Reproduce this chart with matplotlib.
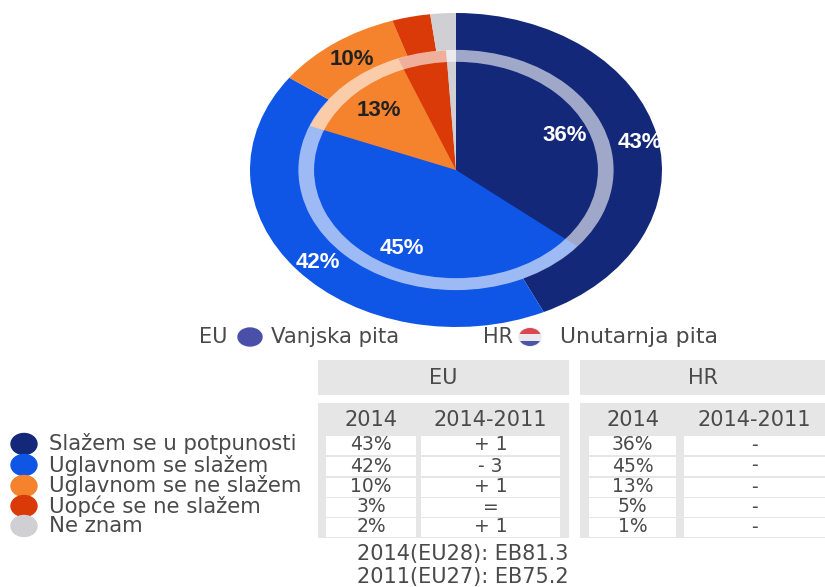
import matplotlib
matplotlib.use("Agg")
import matplotlib.pyplot as plt
from matplotlib.patches import Ellipse, Rectangle

plt.rcParams['font.family'] = ['DejaVu Sans']

categories = ['Slažem se u potpunosti', 'Uglavnom se slažem', 'Uglavnom se ne slažem',
              'Uopće se ne slažem', 'Ne znam']
colors = ['#14287a', '#0f55e6', '#f5822d', '#d93a08', '#cfcfd4']
label_colors = ['white', 'white', '#222222', '#222222', '#222222']

eu_2014 = [43, 42, 10, 3, 2]
hr_2014 = [36, 45, 13, 5, 1]
eu_change = ['+ 1', '- 3', '+ 1', '=', '+ 1']
hr_change = ['-', '-', '-', '-', '-']
notes = ['2014(EU28): EB81.3', '2011(EU27): EB75.2']
text_col = '#4a4a4a'

W, H = 825, 587
fig = plt.figure(figsize=(W / 100, H / 100), dpi=100)

# pixel axes for table and legend
bg = fig.add_axes([0, 0, 1, 1])
bg.set_xlim(0, W)
bg.set_ylim(H, 0)
bg.axis('off')

# the pie is an ellipse in the picture, so stretch its axes
cx, cy, rx, ry = 456, 170, 206, 157
pie_ax = fig.add_axes([(cx - 1.25 * rx) / W, 1 - (cy + 1.25 * ry) / H, 2.5 * rx / W, 2.5 * ry / H])
pie_ax.patch.set_alpha(0)


def fmt(pct):
    return f'{pct:.0f}%' if pct >= 9 else ''


def draw_pie(values, radius, dist):
    wedges, _, autos = pie_ax.pie(values, colors=colors, radius=radius, startangle=90,
                                  counterclock=False, autopct=fmt, pctdistance=dist,
                                  textprops={'family': 'Liberation Sans', 'weight': 'bold',
                                             'fontsize': 16})
    for t, c in zip(autos, label_colors):
        t.set_color(c)
        t.set_zorder(10)
        # labels sit a little right of and below the wedge middle
        x, y = t.get_position()
        t.set_position((x + 0.02, y - 0.02))


draw_pie(eu_2014, 1.0, 0.895)
draw_pie(hr_2014, 0.762, 0.735)
pie_ax.pie([1], colors=['white'], radius=0.765, wedgeprops={'width': 0.076, 'alpha': 0.6})
pie_ax.set_aspect('auto')
pie_ax.set_xlim(-1.25, 1.25)
pie_ax.set_ylim(-1.25, 1.25)

# caption under the pie
bg.text(199, 337, 'EU', fontsize=15, color=text_col, va='center')
bg.add_patch(Ellipse((250, 337), 24, 18, color='#4a4fa8'))
bg.text(271, 337, 'Vanjska pita', fontsize=15.3, color=text_col, va='center')
bg.text(483, 337, 'HR', fontsize=15, color=text_col, va='center')
flag = Ellipse((530, 337), 22, 18, color='#e8e8ee')
bg.add_patch(flag)
for y0, h, c in [(328, 6, '#d9484f'), (341, 5, '#4a55a8')]:
    stripe = Rectangle((519, y0), 22, h, color=c, lw=0)
    bg.add_patch(stripe)
    stripe.set_clip_path(flag)
bg.text(560, 337, 'Unutarnja pita', fontsize=15.8, color=text_col, va='center')

# table blocks
for x0, x1, name in [(318, 569, 'EU'), (580, 825, 'HR')]:
    bg.add_patch(Rectangle((x0, 360), x1 - x0, 35, color='#e6e6e6', lw=0))
    bg.add_patch(Rectangle((x0, 403), x1 - x0, 135, color='#e6e6e6', lw=0))
    bg.text((x0 + x1) / 2, 378, name, fontsize=15, color=text_col, ha='center', va='center')

row_y = [445, 466, 487, 507, 527]
columns = [(326, 416, [f'{v}%' for v in eu_2014], '2014'),
           (421, 560, eu_change, '2014-2011'),
           (589, 676, [f'{v}%' for v in hr_2014], '2014'),
           (684, 825, hr_change, '2014-2011')]
for x0, x1, vals, head in columns:
    xm = (x0 + x1) / 2
    bg.text(xm, 420, head, fontsize=15, color=text_col, ha='center', va='center')
    for y, v in zip(row_y, vals):
        bg.add_patch(Rectangle((x0, y - 9), x1 - x0, 18.5, color='white', lw=0))
        bg.text(xm, y, v, fontsize=13.5, color=text_col, ha='center', va='center')

# legend
for y, c, name in zip(row_y, colors, categories):
    bg.add_patch(Ellipse((24, y - 1), 26, 21, color=c))
    bg.text(49, y - 1, name, fontsize=15.3, color=text_col, va='center')

bg.text(357, 554, notes[0], fontsize=15, color=text_col, va='center')
bg.text(357, 577, notes[1], fontsize=15, color=text_col, va='center')

fig.savefig('out.png', dpi=100)
